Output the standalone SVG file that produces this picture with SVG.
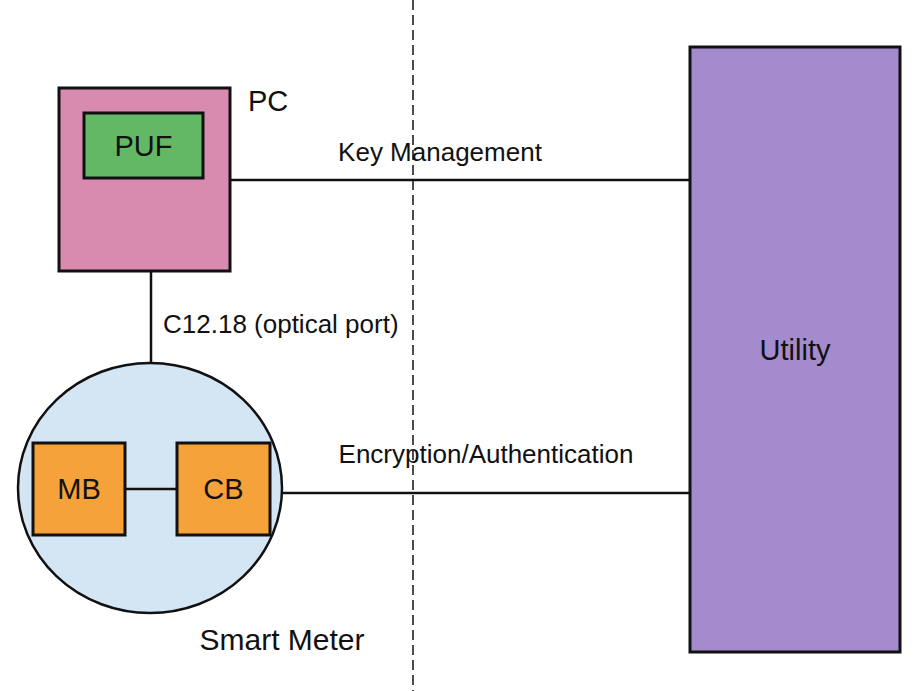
<svg xmlns="http://www.w3.org/2000/svg" width="919" height="691" viewBox="0 0 919 691">
<style>
.box{stroke:#111;stroke-width:3}
.ln{stroke:#111;stroke-width:2.5;fill:none}
text{font-family:"Liberation Sans",Arial,sans-serif;fill:#111}
</style>
<rect width="919" height="691" fill="#fff"/>
<line x1="413" y1="0" x2="413" y2="691" stroke="#111" stroke-width="1.5" stroke-dasharray="10,5"/>
<g id="pc">
<rect class="box" x="59" y="88" width="171" height="183" fill="#d88aaf"/>
<text x="248" y="111" font-size="29">PC</text>
</g>
<g id="puf">
<rect class="box" x="84" y="113" width="119" height="65" fill="#63b864"/>
<text x="143.5" y="156" font-size="29" text-anchor="middle">PUF</text>
</g>
<g id="smartmeter">
<ellipse cx="150" cy="488" rx="132" ry="125" fill="#d4e5f4" stroke="#111" stroke-width="2.5"/>
<text x="282" y="650" font-size="30" text-anchor="middle">Smart Meter</text>
</g>
<g id="connectors">
<line class="ln" x1="230" y1="180" x2="690" y2="180"/>
<line class="ln" x1="151" y1="272" x2="151" y2="363"/>
<line class="ln" x1="125" y1="489" x2="177" y2="489"/>
<line class="ln" x1="282" y1="493" x2="690" y2="493"/>
</g>
<g id="mb">
<rect class="box" x="33" y="443" width="92" height="92" fill="#f5a23b"/>
<text x="79" y="499" font-size="29" text-anchor="middle">MB</text>
</g>
<g id="cb">
<rect class="box" x="177" y="443" width="93" height="92" fill="#f5a23b"/>
<text x="223.5" y="499" font-size="29" text-anchor="middle">CB</text>
</g>
<g id="utility">
<rect class="box" x="690" y="47" width="210" height="605" fill="#a38bce"/>
<text x="795" y="360" font-size="29" text-anchor="middle">Utility</text>
</g>
<text x="440" y="161" font-size="26" text-anchor="middle">Key Management</text>
<text x="163" y="333" font-size="26">C12.18 (optical port)</text>
<text x="486" y="463" font-size="26" text-anchor="middle">Encryption/Authentication</text>
</svg>
